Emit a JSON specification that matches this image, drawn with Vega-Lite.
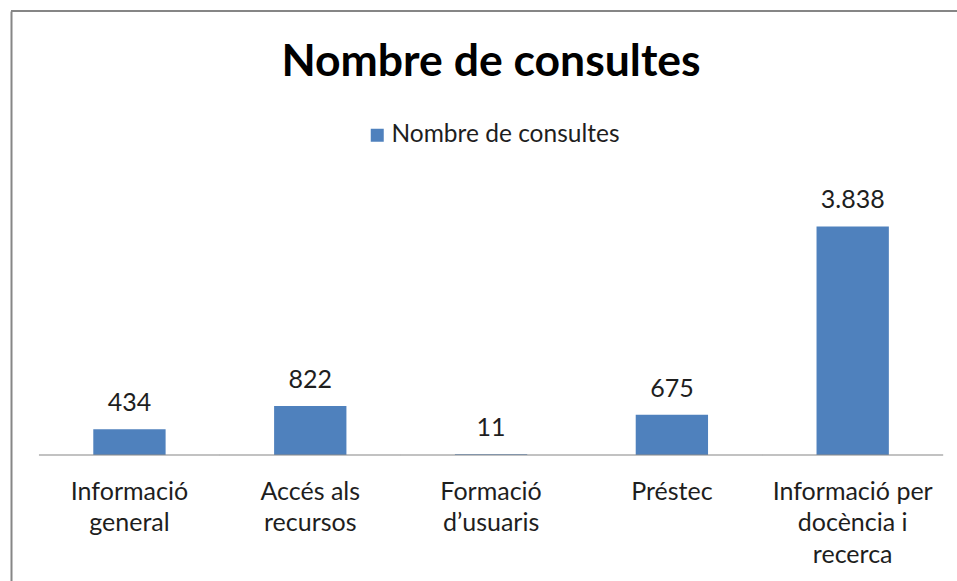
{
  "$schema": "https://vega.github.io/schema/vega-lite/v6.json",
  "width": 946,
  "height": 570,
  "autosize": {"type": "none"},
  "padding": {"left": 11, "top": 11, "right": 0, "bottom": 0},
  "background": "white",
  "config": {
    "view": {"stroke": null},
    "font": "Lato",
    "locale": {"number": {"decimal": ",", "thousands": ".", "grouping": [3], "currency": ["", " €"]}}
  },
  "title": {
    "text": "Nombre de consultes",
    "font": "Lato",
    "fontSize": 44.5,
    "fontWeight": "bold",
    "color": "#000000",
    "anchor": "middle",
    "frame": "group",
    "orient": "top",
    "offset": -110,
    "baseline": "alphabetic",
    "dx": 7
  },
  "data": {
    "values": [
      {"categoria": "Informació general", "consultes": 434, "serie": "Nombre de consultes"},
      {"categoria": "Accés als recursos", "consultes": 822, "serie": "Nombre de consultes"},
      {"categoria": "Formació d’usuaris", "consultes": 11, "serie": "Nombre de consultes"},
      {"categoria": "Préstec", "consultes": 675, "serie": "Nombre de consultes"},
      {"categoria": "Informació per docència i recerca", "consultes": 3838, "serie": "Nombre de consultes"}
    ]
  },
  "layer": [
    {
      "mark": {"type": "bar"},
      "encoding": {
        "x": {
          "field": "categoria",
          "type": "nominal",
          "sort": null,
          "scale": {"paddingInner": 0.6, "paddingOuter": 0.416, "align": 0.547},
          "axis": {
            "orient": "bottom",
            "offset": -126,
            "domain": false,
            "ticks": false,
            "grid": false,
            "title": null,
            "labelAngle": 0,
            "labelFont": "Lato",
            "labelFontSize": 25,
            "labelColor": "#1e1e1e",
            "labelBaseline": "alphabetic",
            "labelPadding": 44,
            "labelLineHeight": 31.5,
            "labelOverlap": false,
            "labelLimit": 400,
            "labelExpr": "datum.value == 'Informació general' ? ['Informació', 'general'] : datum.value == 'Accés als recursos' ? ['Accés als', 'recursos'] : datum.value == 'Formació d’usuaris' ? ['Formació', 'd’usuaris'] : datum.value == 'Informació per docència i recerca' ? ['Informació per', 'docència i', 'recerca'] : datum.value"
          }
        },
        "y": {
          "field": "consultes",
          "type": "quantitative",
          "scale": {"domain": [-2116, 7457], "nice": false, "zero": false},
          "axis": {
            "orient": "left",
            "labels": false,
            "ticks": false,
            "grid": false,
            "title": null,
            "domain": true,
            "domainColor": "#868686",
            "domainWidth": 2
          }
        },
        "y2": {"datum": 0},
        "color": {
          "field": "serie",
          "type": "nominal",
          "scale": {"range": ["#4F81BD"]},
          "legend": {
            "orient": "none",
            "legendX": 354,
            "legendY": 112,
            "title": null,
            "padding": 0,
            "symbolType": "square",
            "symbolSize": 169,
            "symbolStrokeWidth": 0,
            "labelFont": "Lato",
            "labelFontSize": 24.5,
            "labelColor": "#1e1e1e",
            "labelOffset": 2,
            "labelLimit": 500
          }
        }
      }
    },
    {
      "mark": {"type": "tick", "orient": "horizontal", "size": 181, "thickness": 1.5, "color": "#8c8c8c"},
      "encoding": {
        "x": {"field": "categoria", "type": "nominal", "sort": null},
        "y": {"datum": 0}
      }
    },
    {
      "mark": {"type": "text", "baseline": "alphabetic", "dy": -18, "fontSize": 25, "font": "Lato", "color": "#1e1e1e"},
      "encoding": {
        "x": {"field": "categoria", "type": "nominal", "sort": null},
        "y": {"field": "consultes", "type": "quantitative"},
        "text": {"field": "consultes", "type": "quantitative", "format": ",d"}
      }
    },
    {
      "mark": {"type": "rule", "color": "#868686", "strokeWidth": 2},
      "encoding": {
        "y": {"datum": 7457}
      }
    }
  ]
}
